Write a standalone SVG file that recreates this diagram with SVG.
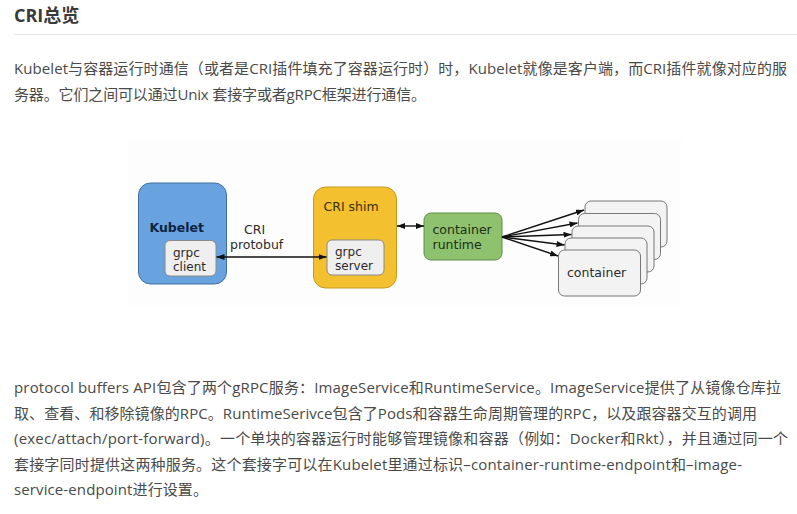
<svg xmlns="http://www.w3.org/2000/svg" width="797" height="514" viewBox="0 0 797 514">
<defs>
<style>
.body{font-family:"Open Sans","Noto Sans CJK SC",sans-serif;font-size:15px;fill:#4a4a4a}
.title{font-family:"Open Sans","Noto Sans CJK SC",sans-serif;font-size:18px;font-weight:bold;fill:#3a3a3a}
.lbl{font-family:"DejaVu Sans",Verdana,sans-serif;font-size:12.5px;fill:#2b2b2b}
.sm{font-size:12px}
.inner{fill:#efefef;stroke:#8a8a8a;stroke-width:1}
.ctr{fill:#f4f3f3;stroke:#777;stroke-width:1}
.conn{stroke:#111;stroke-width:1.4;fill:none}
</style>
<marker id="ah" viewBox="0 0 8 6" refX="8" refY="3" markerWidth="8" markerHeight="6" markerUnits="userSpaceOnUse" orient="auto-start-reverse">
<path d="M0,0 L8,3 L0,6 z" fill="#111"/>
</marker>
</defs>
<rect width="797" height="514" fill="#ffffff"/>
<text class="title" x="14" y="22">CRI总览</text>
<line x1="14" y1="34.5" x2="797" y2="34.5" stroke="#e6e6e6" stroke-width="1"/>
<text class="body" x="14" y="74" textLength="773">Kubelet与容器运行时通信（或者是CRI插件填充了容器运行时）时，Kubelet就像是客户端，而CRI插件就像对应的服</text>
<text class="body" x="14" y="99.5" textLength="412">务器。它们之间可以通过Unix 套接字或者gRPC框架进行通信。</text>
<rect x="128" y="140" width="554" height="165" fill="#fdfdfd"/>
<g id="kubelet">
<rect x="138.5" y="183" width="88" height="101" rx="12" fill="#68a3df" stroke="#416f9e" stroke-width="1"/>
<text class="lbl" x="149.5" y="231.5" style="font-weight:bold;fill:#0f2340">Kubelet</text>
<rect class="inner" x="165" y="240.5" width="51" height="35.5" rx="5"/>
<text class="lbl sm" x="173" y="256.5">grpc</text>
<text class="lbl sm" x="173" y="270.5">client</text>
</g>
<g id="cri-shim">
<rect x="313.5" y="187" width="83" height="101" rx="12" fill="#f3c02f" stroke="#c49a22" stroke-width="1"/>
<text class="lbl" x="323.5" y="211" style="fill:#3a2f08">CRI shim</text>
<rect class="inner" x="327" y="240" width="57" height="35" rx="5"/>
<text class="lbl sm" x="335" y="255.5">grpc</text>
<text class="lbl sm" x="335" y="269.5">server</text>
</g>
<g id="container-runtime">
<rect x="424" y="213" width="78" height="47" rx="7" fill="#8ec26f" stroke="#5f8c48" stroke-width="1"/>
<text class="lbl" x="432.5" y="233.5" style="fill:#1e2d14">container</text>
<text class="lbl" x="432.5" y="248.5" style="fill:#1e2d14">runtime</text>
</g>
<g id="containers">
<rect class="ctr" x="585" y="201" width="82" height="46" rx="6"/>
<rect class="ctr" x="578.5" y="213.5" width="82" height="46" rx="6"/>
<rect class="ctr" x="572" y="226" width="82" height="46" rx="6"/>
<rect class="ctr" x="565" y="238" width="82" height="46" rx="6"/>
<rect class="ctr" x="558.5" y="250" width="82" height="46" rx="6"/>
<text class="lbl" x="567" y="276.5">container</text>
</g>
<g id="connectors">
<text class="lbl" x="244" y="233.5">CRI</text>
<text class="lbl" x="230" y="248.5">protobuf</text>
<line class="conn" x1="216.5" y1="257" x2="326.5" y2="257" marker-start="url(#ah)" marker-end="url(#ah)"/>
<line class="conn" x1="397" y1="226" x2="424" y2="226" marker-start="url(#ah)" marker-end="url(#ah)"/>
<line class="conn" x1="502" y1="237" x2="584" y2="210" marker-end="url(#ah)"/>
<line class="conn" x1="502" y1="237" x2="577.5" y2="223" marker-end="url(#ah)"/>
<line class="conn" x1="502" y1="237" x2="571.5" y2="234.5" marker-end="url(#ah)"/>
<line class="conn" x1="502" y1="237" x2="564.5" y2="245" marker-end="url(#ah)"/>
<line class="conn" x1="502" y1="237" x2="558" y2="256" marker-end="url(#ah)"/>
</g>
<text class="body" x="14" y="393" textLength="767">protocol buffers API包含了两个gRPC服务：ImageService和RuntimeService。ImageService提供了从镜像仓库拉</text>
<text class="body" x="14" y="418.5" textLength="743">取、查看、和移除镜像的RPC。RuntimeSerivce包含了Pods和容器生命周期管理的RPC，以及跟容器交互的调用</text>
<text class="body" x="14" y="444" textLength="774">(exec/attach/port-forward)。一个单块的容器运行时能够管理镜像和容器（例如：Docker和Rkt），并且通过同一个</text>
<text class="body" x="14" y="469.5" textLength="728">套接字同时提供这两种服务。这个套接字可以在Kubelet里通过标识–container-runtime-endpoint和–image-</text>
<text class="body" x="14" y="495" textLength="194">service-endpoint进行设置。</text>
</svg>
